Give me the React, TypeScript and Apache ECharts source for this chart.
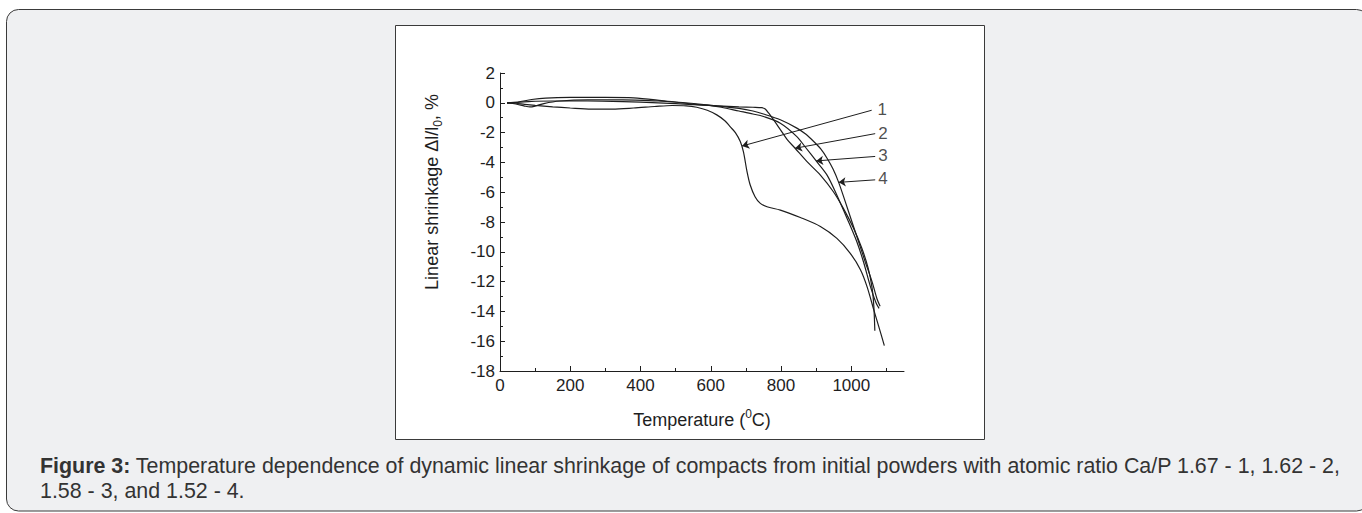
import React, { useEffect, useRef } from "react";
import * as echarts from "echarts";

// ---- Data (Temperature °C, linear shrinkage %) ----
const tempMajorTicks = [0, 200, 400, 600, 800, 1000];
const tempMinorTicks = [100, 300, 500, 700, 900, 1100];

const curve1: [number, number][] = [
  [20, 0], [45, -0.03], [70, -0.1], [100, -0.17], [150, -0.27], [200, -0.35], [260, -0.42],
  [320, -0.42], [380, -0.35], [440, -0.25], [490, -0.18], [530, -0.2], [560, -0.3], [590, -0.5],
  [617, -0.81], [640, -1.2], [655, -1.6], [670, -2.0], [684, -2.6], [693, -3.3], [703, -4.6],
  [712, -5.5], [726, -6.3], [741, -6.75], [760, -6.98], [798, -7.2], [855, -7.7], [912, -8.3],
  [959, -9.1], [997, -10.1], [1026, -11.2], [1045, -12.35], [1064, -13.9], [1078, -15.0], [1094, -16.3],
];
const curve2: [number, number][] = [
  [20, 0], [50, 0.02], [90, 0.1], [150, 0.12], [250, 0.12], [350, 0.08], [450, 0.0], [550, -0.12],
  [620, -0.2], [680, -0.27], [720, -0.3], [745, -0.33], [755, -0.42], [765, -0.7], [779, -1.15],
  [798, -1.8], [817, -2.45], [840, -3.05], [874, -3.95], [912, -4.85], [949, -5.97], [977, -7.07],
  [1006, -8.4], [1030, -9.76], [1048, -11.1], [1059, -12.4], [1064, -13.6], [1067, -15.3],
];
const curve3: [number, number][] = [
  [20, 0], [45, -0.08], [70, -0.22], [85, -0.28], [100, -0.22], [125, -0.05], [170, 0.12],
  [250, 0.2], [350, 0.2], [450, 0.12], [520, 0.02], [580, -0.12], [630, -0.3], [680, -0.55],
  [720, -0.75], [750, -0.92], [798, -1.37], [845, -2.27], [870, -3.0], [900, -3.9], [931, -4.85],
  [959, -6.2], [988, -7.76], [1016, -9.34], [1035, -10.7], [1054, -12.3], [1070, -13.4], [1079, -13.8],
];
const curve4: [number, number][] = [
  [20, 0], [50, 0.05], [90, 0.22], [130, 0.32], [200, 0.36], [300, 0.36], [380, 0.33], [460, 0.15],
  [556, -0.1], [620, -0.22], [680, -0.38], [720, -0.55], [750, -0.75], [798, -1.14], [845, -1.7],
  [870, -2.1], [893, -2.6], [913, -3.1], [931, -3.72], [948, -4.45], [964, -5.34], [983, -6.65],
  [1002, -8.0], [1021, -9.34], [1040, -10.7], [1059, -12.0], [1073, -13.15], [1082, -13.65],
];

const curveNames = ["1.67", "1.62", "1.58", "1.52"];
const labelNames = ["1", "2", "3", "4"];
const labelAt: [number, number][] = [[1088, -0.45], [1090, -2.05], [1090, -3.55], [1090, -5.1]];
const arrowFrom: [number, number][] = [[1058, -0.5], [1068, -2.07], [1068, -3.6], [1068, -5.17]];
const arrowTo: [number, number][] = [[689, -2.9], [840, -3.05], [900, -3.9], [964, -5.34]];

const captionLine1 =
  "Temperature dependence of dynamic linear shrinkage of compacts from initial powders with atomic ratio Ca/P 1.67 - 1, 1.62 - 2,";
const captionLine2 = "1.58 - 3, and 1.52 - 4.";

const FONT = "'Liberation Sans', Arial, Helvetica, sans-serif";
const INK = "#1e1e1e";

export default function App() {
  const ref = useRef<HTMLDivElement>(null);

  useEffect(() => {
    if (!ref.current) return;
    const chart = echarts.init(ref.current, undefined, { renderer: "svg" });
    const curves = [curve1, curve2, curve3, curve4];
    const plain = (v: number) => String(v);

    const option: any = {
      animation: false,
      textStyle: { fontFamily: FONT },
      graphic: [
        {
          type: "rect",
          z: -10,
          silent: true,
          shape: { x: 6.5, y: 9.5, width: 1362, height: 501.5, r: 12 },
          style: { fill: "#eff0f2", stroke: "#3a3a3a", lineWidth: 1 },
        },
        {
          type: "rect",
          z: -9,
          silent: true,
          shape: { x: 395.5, y: 25.5, width: 589, height: 414 },
          style: { fill: "#ffffff", stroke: "#3a3a3a", lineWidth: 1 },
        },
        {
          type: "text",
          x: 432,
          y: 192,
          rotation: Math.PI / 2,
          style: {
            text: "{a|Linear shrinkage Δl/l}{s|0}{a|, %}",
            align: "center",
            verticalAlign: "middle",
            fill: INK,
            rich: {
              a: { fontSize: 18, fontFamily: FONT, fill: INK, lineHeight: 24, verticalAlign: "middle" },
              s: { fontSize: 12, fontFamily: FONT, fill: INK, lineHeight: 24, verticalAlign: "bottom" },
            },
          },
        },
        {
          type: "text",
          x: 702,
          y: 420,
          style: {
            text: "{a|Temperature (}{s|0}{a|C)}",
            align: "center",
            verticalAlign: "middle",
            fill: INK,
            rich: {
              a: { fontSize: 18, fontFamily: FONT, fill: INK, lineHeight: 24, verticalAlign: "middle" },
              s: { fontSize: 12, fontFamily: FONT, fill: INK, lineHeight: 24, verticalAlign: "top" },
            },
          },
        },
        {
          type: "text",
          x: 40,
          y: 466,
          style: {
            text: "{b|Figure 3:}{r| " + captionLine1 + "}",
            align: "left",
            verticalAlign: "middle",
            rich: {
              b: { fontSize: 21.4, fontWeight: "bold", fontFamily: FONT, fill: "#333333" },
              r: { fontSize: 21.4, fontFamily: FONT, fill: "#333333" },
            },
          },
        },
        {
          type: "text",
          x: 40,
          y: 491,
          style: {
            text: captionLine2,
            align: "left",
            verticalAlign: "middle",
            fontSize: 21.4,
            fontFamily: FONT,
            fill: "#333333",
          },
        },
      ],
      grid: { left: 500, top: 73, width: 404, height: 298, containLabel: false },
      xAxis: [
        {
          type: "value",
          min: 0,
          max: 1150,
          interval: 200,
          position: "bottom",
          axisLine: { show: true, onZero: false, lineStyle: { color: INK, width: 1 } },
          axisTick: { show: true, inside: true, length: 5, customValues: tempMajorTicks, lineStyle: { color: INK } },
          axisLabel: { customValues: tempMajorTicks, formatter: plain, color: INK, fontSize: 17, fontFamily: FONT, margin: 6 },
          splitLine: { show: false },
        },
        {
          type: "value",
          min: 0,
          max: 1150,
          position: "bottom",
          axisLine: { show: false, onZero: false },
          axisTick: { show: true, inside: true, length: 3, customValues: tempMinorTicks, lineStyle: { color: INK } },
          axisLabel: { show: false },
          splitLine: { show: false },
        },
      ],
      yAxis: {
        type: "value",
        min: -18,
        max: 2,
        interval: 2,
        axisLine: { show: true, onZero: false, lineStyle: { color: INK, width: 1 } },
        axisTick: { show: true, inside: true, length: 5, lineStyle: { color: INK } },
        minorTick: { show: true, splitNumber: 2, length: 3, lineStyle: { color: INK } },
        axisLabel: { formatter: plain, color: INK, fontSize: 17, fontFamily: FONT, margin: 5 },
        splitLine: { show: false },
        minorSplitLine: { show: false },
      },
      series: [
        ...curves.map((c, i) => ({
          type: "line",
          name: curveNames[i],
          data: c,
          xAxisIndex: 0,
          showSymbol: false,
          symbol: "none",
          smooth: 0.3,
          lineStyle: { color: INK, width: 1.2 },
          silent: true,
        })),
        {
          type: "scatter",
          name: "labels",
          xAxisIndex: 0,
          data: labelAt.map((p, i) => ({ value: p, name: labelNames[i] })),
          symbolSize: 1,
          itemStyle: { color: "rgba(0,0,0,0)" },
          label: {
            show: true,
            position: "inside",
            formatter: "{b}",
            color: INK,
            fontSize: 17,
            fontFamily: FONT,
          },
          silent: true,
          markLine: {
            silent: true,
            symbol: ["none", "arrow"],
            symbolSize: 7,
            label: { show: false },
            lineStyle: { color: INK, width: 1, type: "solid" },
            data: arrowFrom.map((p, i) => [{ coord: p }, { coord: arrowTo[i] }]),
          },
        },
      ],
    };

    chart.setOption(option);
    return () => chart.dispose();
  }, []);

  return (
    <div
      ref={ref}
      style={{ position: "fixed", left: 0, top: 0, width: 1362, height: 513, background: "#ffffff" }}
    />
  );
}
